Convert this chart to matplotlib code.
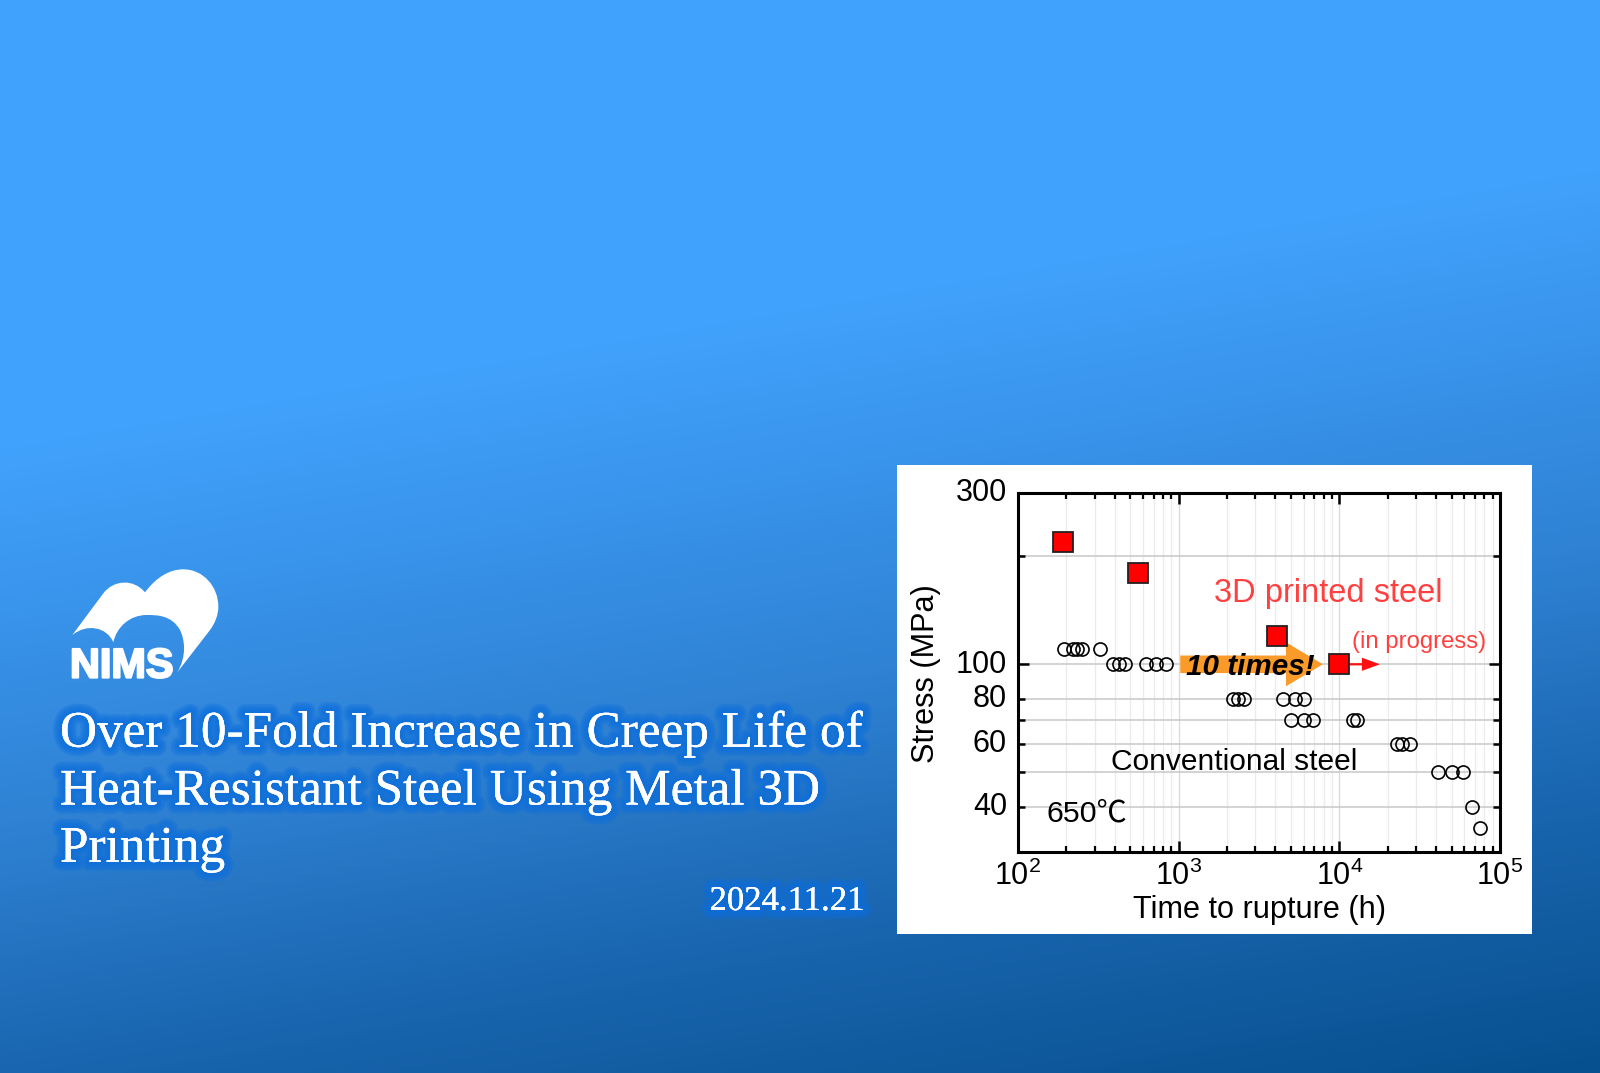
import numpy as np
import matplotlib
matplotlib.use("Agg")
import matplotlib.pyplot as plt
import matplotlib.patheffects as pe
import matplotlib.transforms as mtrans
from matplotlib.path import Path
from matplotlib.patches import PathPatch, Rectangle
from matplotlib.colors import LinearSegmentedColormap
from matplotlib.ticker import LogLocator, NullFormatter, NullLocator

W, H = 1600, 1073

# creep data
printed_time = [190, 556, 4090, 10000]
printed_stress = [219, 180, 120, 100]

conv_time = [192, 219, 232, 249, 324,
             388, 427, 463, 623, 719, 830,
             2170, 2350, 2540, 4440, 5320, 6020,
             5020, 6020, 6890, 12200, 12800,
             22900, 24400, 27500,
             40900, 50200, 59000,
             66800, 75300]
conv_stress = [110, 110, 110, 110, 110,
               100, 100, 100, 100, 100, 100,
               80, 80, 80, 80, 80, 80,
               70, 70, 70, 70, 70,
               60, 60, 60,
               50, 50, 50,
               40, 35]

y_ticks = [40, 50, 60, 70, 80, 100, 200, 300]
y_tick_labels = ["40", "", "60", "", "80", "100", "", "300"]
x_ticks = [1e2, 1e3, 1e4, 1e5]
title_lines = ["Over 10-Fold Increase in Creep Life of",
               "Heat-Resistant Steel Using Metal 3D",
               "Printing"]

plt.rcParams["font.family"] = ["Liberation Sans", "Noto Sans CJK JP"]
plt.rcParams["mathtext.fontset"] = "custom"
plt.rcParams["mathtext.rm"] = "Liberation Sans"


def fx(px):
    return px / W


def fy(py):
    return 1 - py / H


fig = plt.figure(figsize=(W / 100, H / 100), dpi=100)

# background gradient, tilted a little
bg = fig.add_axes([0, 0, 1, 1])
xx, yy = np.meshgrid(np.linspace(0, 1, 400), np.linspace(0, 1, 300))
cmap = LinearSegmentedColormap.from_list(
    "bg", [(0, "#41a2fd"), (0.33, "#41a2fd"), (0.61, "#2f82d4"), (0.79, "#1a66b0"), (1, "#07508f")])
bg.imshow(np.clip(yy * 0.793 + xx * 0.207, 0, 1), cmap=cmap, vmin=0, vmax=1,
          extent=[0, W, H, 0], aspect="auto", interpolation="bilinear")
bg.set_xlim(0, W)
bg.set_ylim(H, 0)
bg.axis("off")

# white panel behind the chart
bg.add_patch(Rectangle((897, 465), 635, 469, fc="white", ec="none"))

# logo outline, in crop coordinates of the logo
start = (97, 225)
segments = [
    [(190, 100)],
    [(220, 60), (280, 55), (315, 97)],
    [(350, 50), (390, 28), (430, 28)],
    [(490, 28), (535, 80), (535, 140)],
    [(535, 165), (525, 190), (510, 210)],
    [(412, 337)],
    [(440, 290), (435, 240), (420, 210)],
    [(395, 165), (350, 165), (320, 165)],
    [(270, 165), (230, 200), (220, 247)],
    [(200, 200), (140, 190), (97, 225)],
]
verts = [start]
codes = [Path.MOVETO]
for seg in segments:
    verts += seg
    codes += [Path.LINETO] if len(seg) == 1 else [Path.CURVE4] * 3
logo = [(40 + vx / 3, 560 + vy / 3) for vx, vy in verts]
bg.add_patch(PathPatch(Path(logo, codes), fc="white", ec="none"))
fig.text(fx(70), fy(677.5), "NIMS", color="white", fontsize=29.8, fontweight="bold",
         family="Liberation Sans", va="baseline", ha="left",
         path_effects=[pe.withStroke(linewidth=1.6, foreground="white")])

# title with a soft glow
glow = [pe.withStroke(linewidth=w, foreground="#0c6edc", alpha=0.33) for w in (13, 10, 7, 4)]
glow.append(pe.Normal())
for line, base in zip(title_lines, [746.7, 804.5, 861.7]):
    fig.text(fx(60), fy(base), line, color="white", fontsize=36.9, family="Liberation Serif",
             va="baseline", ha="left", path_effects=glow)
fig.text(fx(864), fy(910), "2024.11.21", color="white", fontsize=25, family="Liberation Serif",
         va="baseline", ha="right", path_effects=glow)

# chart
ax = fig.add_axes([fx(1018), fy(852), fx(1500 - 1018), (852 - 493) / H])
ax.patch.set_alpha(0)
ax.set_xscale("log")
ax.set_yscale("log")
ax.set_xlim(1e2, 1e5)
ax.set_ylim(30, 300)

ax.set_yticks(y_ticks)
ax.set_yticklabels(y_tick_labels)
ax.yaxis.set_minor_locator(NullLocator())
ax.yaxis.set_minor_formatter(NullFormatter())
ax.set_xticks(x_ticks)
ax.set_xticklabels([r"$\mathregular{10^{%d}}$" % int(np.log10(v)) for v in x_ticks])
ax.xaxis.set_minor_locator(LogLocator(base=10, subs=np.arange(2, 10)))
ax.xaxis.set_minor_formatter(NullFormatter())

ax.grid(True, which="major", axis="y", color="#c8c8c8", lw=1.1)
ax.grid(True, which="major", axis="x", color="#dcdcdc", lw=1.0)
ax.grid(True, which="minor", axis="x", color="#ececec", lw=1.0)
ax.set_axisbelow(True)

ax.tick_params(axis="both", which="major", direction="in", top=True, right=True,
               length=5, width=1.8, labelsize=22, pad=8, color="black")
ax.tick_params(axis="x", which="major", length=8, pad=6)
ax.tick_params(axis="x", which="minor", direction="in", top=True, length=4.5, width=1.6)
for t in ax.yaxis.get_major_ticks():
    if t.get_loc() == 100:
        t.tick1line.set_markersize(8)
        t.tick2line.set_markersize(8)
# the y labels sit a little above their ticks in the original
lift = mtrans.ScaledTranslation(0, 2.3 / 72, fig.dpi_scale_trans)
for lab in ax.get_yticklabels():
    lab.set_transform(lab.get_transform() + lift)
for s in ax.spines.values():
    s.set_linewidth(2.2)

ax.plot(conv_time, conv_stress, ls="none", marker="o", ms=9.4, mfc="none", mec="black", mew=1.2, zorder=3)

# long-life arrow goes under the label and the last square
ax.annotate("", xy=(7900, 100), xytext=(1023, 100), zorder=4,
            arrowprops=dict(arrowstyle="simple,head_length=26.6,head_width=31.7,tail_width=12.6",
                            mutation_scale=1, fc="#fa9a28", ec="none", shrinkA=0, shrinkB=0))
ax.annotate("", xy=(17900, 100), xytext=(10000, 100), zorder=4,
            arrowprops=dict(arrowstyle="simple,head_length=13,head_width=9.5,tail_width=1.6",
                            mutation_scale=1, fc="#ff1010", ec="none", shrinkA=0, shrinkB=0))
ax.plot(printed_time, printed_stress, ls="none", marker="s", ms=14.2, mfc="#ff0000", mec="#222222", mew=1.3, zorder=5)

fig.text(fx(1214), fy(601.7), "3D printed steel", color="#ff4040", fontsize=23.5)
fig.text(fx(1352), fy(648), "(in progress)", color="#ff4040", fontsize=17.2)
fig.text(fx(1186), fy(675), "10 times!", color="black", fontsize=21.3, fontweight="bold", style="italic", zorder=6)
fig.text(fx(1110.7), fy(770), "Conventional steel", color="black", fontsize=21.5)
fig.text(fx(1046.7), fy(821.7), "650\u2103", color="black", fontsize=21.8)
fig.text(fx(1133), fy(917.7), "Time to rupture (h)", color="black", fontsize=22.1)
fig.text(fx(934), fy(673.5), "Stress (MPa)", color="black", fontsize=22.1, rotation=90,
         ha="center", va="baseline", rotation_mode="anchor")

fig.savefig("out.png", dpi=100)
